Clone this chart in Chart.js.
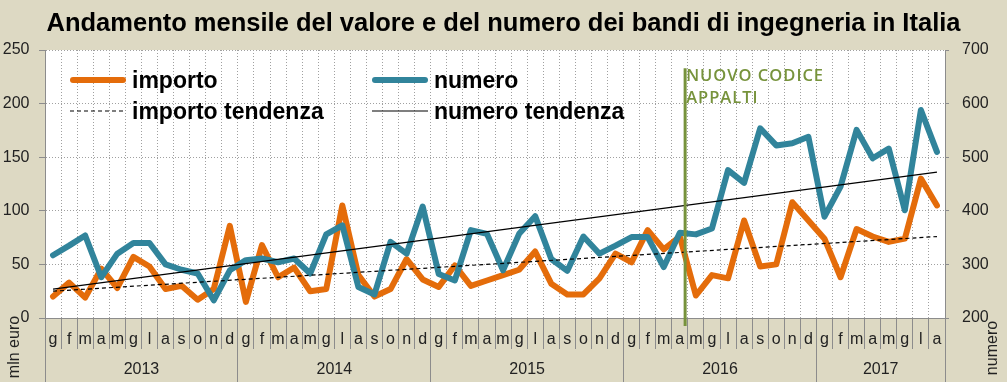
<!DOCTYPE html>
<html><head><meta charset="utf-8">
<script src="https://cdn.jsdelivr.net/npm/chart.js@4/dist/chart.umd.min.js"></script>
<style>html,body{margin:0;padding:0;background:#DDD9C3;overflow:hidden}#wrap{width:1007px;height:382px}</style>
</head><body><div id="wrap"><canvas id="c" width="1007" height="382"></canvas></div>
<script>
const monthLetters = ['g','f','m','a','m','g','l','a','s','o','n','d'];
const years = ['2013','2014','2015','2016','2017'];
const monthsPerYear = [12,12,12,12,8];
const importo = [20,33,19,46,28,57,48,27,30,17,27,86,
                 15,68,38,47,25,27,105,40,20,27,55,36,
                 29,49,30,35,40,45,62,32,22,22,37,60,
                 52,82,64,76,21,40,37,91,48,50,108,91,
                 74,38,83,76,71,74,130,105];
const numero = [317,335,354,276,320,340,340,300,290,283,233,289,
                308,311,304,311,283,356,373,258,244,342,320,408,
                282,270,364,357,289,357,390,310,288,352,320,335,
                351,351,295,359,356,367,476,452,554,522,526,538,
                389,445,551,498,516,401,588,510];
const importoTrendEnds = [25, 76];
const numeroTrendEnds = [254, 472];
const leftRange = [0, 250, 50];
const rightRange = [200, 700, 100];
const eventMonthIndex = 39;
const eventText = ['NUOVO CODICE', 'APPALTI'];
const titleText = 'Andamento mensile del valore e del numero dei bandi di ingegneria in Italia';

const FAM = "'Liberation Sans', Arial, sans-serif";
const labels = years.flatMap((y, k) => monthLetters.slice(0, monthsPerYear[k]));
const n = labels.length;
const ends = e => labels.map((_, i) => i === 0 ? e[0] : (i === n - 1 ? e[1] : null));
const importoTrend = ends(importoTrendEnds);
const numeroTrend = ends(numeroTrendEnds);

const yearBounds = [-0.5];
monthsPerYear.forEach(m => yearBounds.push(yearBounds[yearBounds.length - 1] + m));
const yearCenters = years.map((y, k) => (yearBounds[k] + yearBounds[k + 1]) / 2);
const yearTickVals = [...yearBounds, ...yearCenters].sort((a, b) => a - b);

const GRID = '#a0a0a0';
const AXIS = '#8c8c8c';
const ORANGE = '#E46C0A';
const BLUE = '#31849B';
const GREEN = '#77933C';

const extras = {
  id: 'extras',
  beforeDraw(chart) {
    const {ctx, chartArea: a} = chart;
    ctx.save();
    ctx.fillStyle = '#DDD9C3';
    ctx.fillRect(0, 0, chart.width, chart.height);
    ctx.fillStyle = '#ffffff';
    ctx.fillRect(a.left, a.top, a.right - a.left, a.bottom - a.top);
    ctx.restore();
  },
  afterDatasetsDraw(chart) {
    const {ctx} = chart;
    const xs = chart.scales.x;
    const step = xs.getPixelForValue(1) - xs.getPixelForValue(0);
    const gx = xs.getPixelForValue(eventMonthIndex) + 0.33 * step;
    const yl = chart.scales.y;
    ctx.save();
    ctx.strokeStyle = GREEN;
    ctx.lineWidth = 3;
    ctx.beginPath();
    ctx.moveTo(gx, yl.getPixelForValue(233));
    ctx.lineTo(gx, yl.bottom + 8);
    ctx.stroke();
    ctx.fillStyle = GREEN;
    ctx.font = "600 16.5px 'Open Sans', sans-serif";
    if ('letterSpacing' in ctx) ctx.letterSpacing = '1px';
    ctx.textBaseline = 'alphabetic';
    ctx.textAlign = 'left';
    eventText.forEach((t, i) => ctx.fillText(t, gx + 1, yl.getPixelForValue(221) + i * 22));
    ctx.restore();

    const ds = chart.data.datasets;
    const byLabel = l => ds.find(d => d.label === l);
    const items = [
      ['importo', 70, 80], ['numero', 372, 80],
      ['importo tendenza', 70, 111], ['numero tendenza', 372, 111]
    ];
    ctx.save();
    items.forEach(([l, x, y]) => {
      const d = byLabel(l);
      const thick = d.borderWidth > 3;
      ctx.strokeStyle = d.borderColor;
      ctx.lineWidth = d.borderWidth;
      ctx.lineCap = thick ? 'round' : 'butt';
      ctx.setLineDash(d.borderDash || []);
      ctx.beginPath();
      ctx.moveTo(x + (thick ? 3 : 0), y);
      ctx.lineTo(x + 56 - (thick ? 3 : 0), y);
      ctx.stroke();
      ctx.setLineDash([]);
      ctx.fillStyle = '#000';
      ctx.font = 'bold 23px ' + FAM;
      ctx.textBaseline = 'alphabetic';
      ctx.fillText(l, x + 62, y + 8);
    });
    ctx.restore();
  },
  afterDraw(chart) {
    const {ctx} = chart;
    [['mln euro', 15, 347], ['numero', 993, 348]].forEach(([t, x, y]) => {
      ctx.save();
      ctx.fillStyle = '#222';
      ctx.font = '16px ' + FAM;
      ctx.textAlign = 'center';
      ctx.textBaseline = 'middle';
      ctx.translate(x, y);
      ctx.rotate(-Math.PI / 2);
      ctx.fillText(t, 0, 0);
      ctx.restore();
    });
  }
};

new Chart(document.getElementById('c'), {
  type: 'line',
  data: {
    labels,
    datasets: [
      {label: 'importo tendenza', data: importoTrend, yAxisID: 'y', borderColor: '#000', borderWidth: 1.2, borderDash: [4, 3], pointRadius: 0, spanGaps: true, order: 0},
      {label: 'numero tendenza', data: numeroTrend, yAxisID: 'y2', borderColor: '#000', borderWidth: 1.2, pointRadius: 0, spanGaps: true, order: 0},
      {label: 'numero', data: numero, yAxisID: 'y2', borderColor: BLUE, borderWidth: 6, pointRadius: 0, borderJoinStyle: 'round', borderCapStyle: 'round', tension: 0, order: 1},
      {label: 'importo', data: importo, yAxisID: 'y', borderColor: ORANGE, borderWidth: 6, pointRadius: 0, borderJoinStyle: 'round', borderCapStyle: 'round', tension: 0, order: 2}
    ]
  },
  options: {
    responsive: false,
    devicePixelRatio: 1,
    animation: false,
    layout: {padding: 0},
    plugins: {
      legend: {display: false},
      tooltip: {enabled: false},
      title: {
        display: true, text: titleText, color: '#000',
        font: {family: FAM, size: 25.5, weight: 'bold', lineHeight: 1.2},
        padding: {top: 8.7, bottom: 10.7}
      }
    },
    scales: {
      x: {
        type: 'category', position: 'bottom', offset: true,
        grid: {offset: true, drawOnChartArea: true, color: GRID, lineWidth: 1, tickLength: 31, tickColor: AXIS, tickWidth: 1, tickBorderDash: []},
        border: {display: true, color: AXIS, width: 1, dash: [1, 2]},
        ticks: {autoSkip: false, maxRotation: 0, minRotation: 0, padding: -19, color: '#222', font: {family: FAM, size: 16}},
        afterFit: s => { s.height = 31; }
      },
      x2: {
        type: 'linear', position: 'bottom', min: -0.5, max: n - 0.5,
        grid: {drawOnChartArea: false, tickLength: 33, tickWidth: 1, tickBorderDash: [],
               tickColor: c => (c.tick && yearBounds.includes(c.tick.value)) ? AXIS : 'rgba(0,0,0,0)'},
        border: {display: false},
        ticks: {autoSkip: false, maxRotation: 0, minRotation: 0, padding: -22, color: '#222', font: {family: FAM, size: 16},
                callback: v => { const k = yearCenters.indexOf(v); return k >= 0 ? years[k] : ''; }},
        afterBuildTicks: s => { s.ticks = yearTickVals.map(v => ({value: v})); },
        afterFit: s => { s.height = 33; }
      },
      y: {
        position: 'left', min: leftRange[0], max: leftRange[1],
        ticks: {stepSize: leftRange[2], padding: 9.5, color: '#222', font: {family: FAM, size: 16}},
        grid: {color: GRID, lineWidth: 1, tickLength: 6, tickColor: AXIS, tickBorderDash: []},
        border: {display: true, color: AXIS, width: 1, dash: [1, 2]},
        afterFit: s => { s.width = 45; }
      },
      y2: {
        position: 'right', min: rightRange[0], max: rightRange[1],
        ticks: {stepSize: rightRange[2], padding: 13, color: '#222', font: {family: FAM, size: 16}},
        grid: {drawOnChartArea: false, tickLength: 4, tickColor: AXIS, tickBorderDash: []},
        border: {display: true, color: AXIS, width: 1},
        afterFit: s => { s.width = 62; }
      }
    }
  },
  plugins: [extras]
});
</script></body></html>
